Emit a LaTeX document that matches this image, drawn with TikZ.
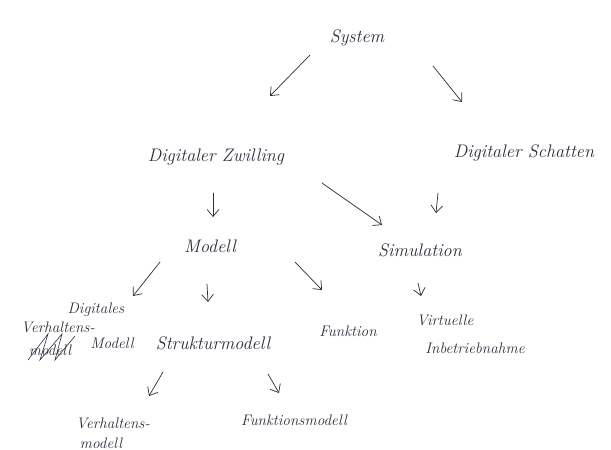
\documentclass[tikz,border=0pt]{standalone}
\usetikzlibrary{arrows.meta}
\definecolor{ink}{RGB}{45,45,60}
\begin{document}
\begin{tikzpicture}[x=0.03cm,y=-0.03cm,
  txt/.style={font=\itshape\fontsize{15.5}{17}\selectfont, text=ink, inner sep=0pt},
  small/.style={font=\itshape\fontsize{13}{15}\selectfont, text=ink, inner sep=0pt},
  arr/.style={draw=ink, line width=0.6pt, line cap=round, -{Straight Barb[length=6pt,width=10pt]}},
  scrib/.style={draw=ink, line width=0.5pt, line cap=round}]
\fill[white] (0,0) rectangle (611,450);
\useasboundingbox (0,0) rectangle (611,450);
% nodes
\node[txt] (sys) at (357,38) {System};
\node[txt] (dz) at (216,157) {Digitaler Zwilling};
\node[txt] (ds) at (524,153) {Digitaler Schatten};
\node[txt] (mod) at (210,246) {Modell};
\node[txt] (sim) at (420,250) {Simulation};
\node[small] (dig) at (96,310) {Digitales};
\node[small] (verh1) at (58,327) {Verhaltens-};
\node[small] (verh1b) at (50,350) {modell};
\node[small] (mod2) at (112,343) {Modell};
\node[txt] (struk) at (213,343) {Strukturmodell};
\node[small] (fkt) at (348,331) {Funktion};
\node[small] (virt) at (445,320) {Virtuelle};
\node[small] (inb) at (475,348) {Inbetriebnahme};
\node[small] (verh2) at (113,423) {Verhaltens-};
\node[small] (verh2b) at (101,443) {modell};
\node[small] (fktm) at (294,420) {Funktionsmodell};
% arrow end points
\coordinate (a1) at (310,55);  \coordinate (b1) at (270,96);
\coordinate (a2) at (433,66);  \coordinate (b2) at (462,102);
\coordinate (a3) at (213,193); \coordinate (b3) at (213,217);
\coordinate (a4) at (322,183); \coordinate (b4) at (382,225);
\coordinate (a5) at (438,193); \coordinate (b5) at (436,213);
\coordinate (a6) at (160,262); \coordinate (b6) at (133,296);
\coordinate (a7) at (207,284); \coordinate (b7) at (208,302);
\coordinate (a8) at (295,262); \coordinate (b8) at (322,290);
\coordinate (a9) at (418,283); \coordinate (b9) at (421,296);
\coordinate (a10) at (163,372); \coordinate (b10) at (149,396);
\coordinate (a11) at (268,374); \coordinate (b11) at (279,393);
\foreach \i in {1,...,11} {\draw[arr] (a\i) -- (b\i);}
% crossing out
\draw[scrib] (28,360) -- (48,334) -- (40,360) -- (62,334) -- (55,360) -- (75,336);
\end{tikzpicture}
\end{document}
